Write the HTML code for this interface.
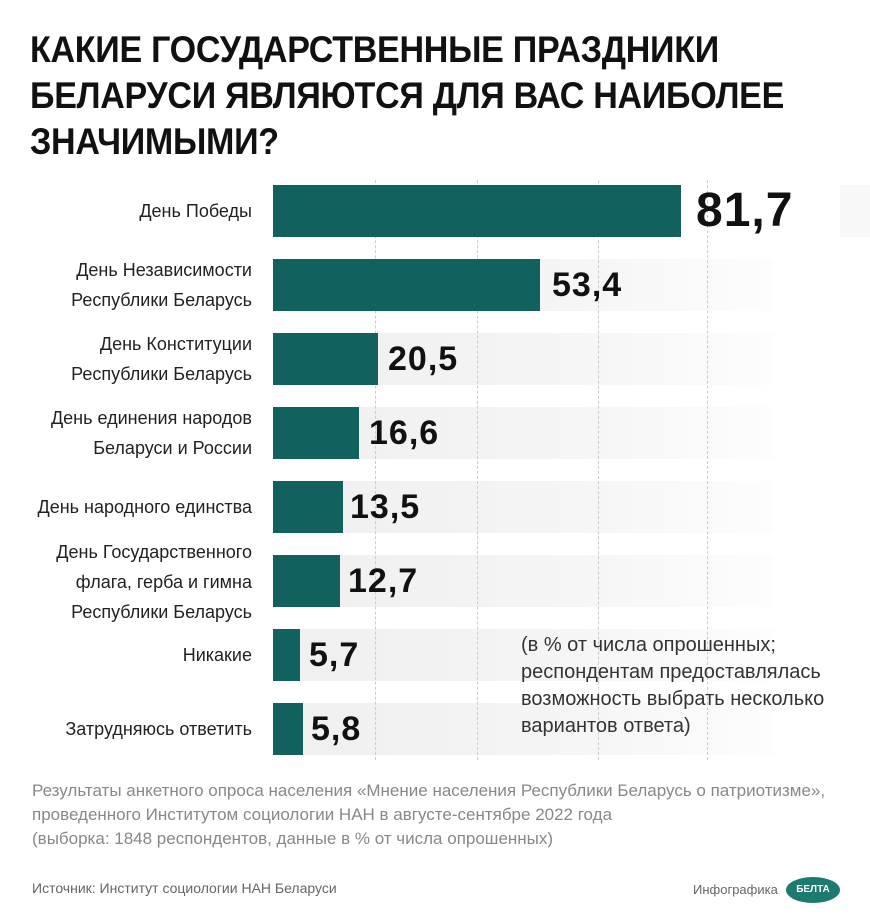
<!DOCTYPE html>
<html><head><meta charset="utf-8"><style>
body{margin:0;width:870px;height:919px;background:#fff;position:relative;overflow:hidden;font-family:"Liberation Sans",sans-serif;}
.t{position:absolute;left:30px;top:27px;font-size:37px;font-weight:bold;line-height:46px;color:#111;letter-spacing:-0.3px;transform:scaleX(0.92);transform-origin:left top;}
.strip{position:absolute;left:273px;width:500px;height:52px;background:linear-gradient(to right,#efefef 0%,#f5f5f5 60%,#fdfdfd 100%);}
.bar{position:absolute;left:273px;height:52px;background:#11625f;}
.v{position:absolute;font-weight:bold;color:#111;font-size:34px;line-height:52px;letter-spacing:1px;}
.lab{position:absolute;right:618px;text-align:right;font-size:18px;line-height:30px;color:#222;}
.dl{position:absolute;top:180px;height:580px;border-left:1px dashed #ccc;}
.note{position:absolute;left:521px;top:632px;font-size:20px;line-height:27px;color:#333;}
.foot{position:absolute;left:32px;top:779px;font-size:17px;line-height:24px;color:#888;}
.src{position:absolute;left:32px;top:880px;font-size:14px;color:#666;}
</style></head><body>
<div class="t">КАКИЕ ГОСУДАРСТВЕННЫЕ ПРАЗДНИКИ<br>БЕЛАРУСИ ЯВЛЯЮТСЯ ДЛЯ ВАС НАИБОЛЕЕ<br>ЗНАЧИМЫМИ?</div>
<div class="strip" style="top:259px"></div>
<div class="strip" style="top:333px"></div>
<div class="strip" style="top:407px"></div>
<div class="strip" style="top:481px"></div>
<div class="strip" style="top:555px"></div>
<div class="strip" style="top:629px"></div>
<div class="strip" style="top:703px"></div>
<div style="position:absolute;left:840px;top:185px;width:30px;height:52px;background:#f8f8f8"></div>
<div class="dl" style="left:375px"></div><div class="dl" style="left:477px"></div><div class="dl" style="left:598px"></div><div class="dl" style="left:707px"></div>
<div class="bar" style="top:185px;width:408px"></div><div class="v" style="left:696px;top:185px;font-size:48px">81,7</div>
<div class="bar" style="top:259px;width:267px"></div><div class="v" style="left:552px;top:259px">53,4</div>
<div class="bar" style="top:333px;width:105px"></div><div class="v" style="left:388px;top:333px">20,5</div>
<div class="bar" style="top:407px;width:86px"></div><div class="v" style="left:369px;top:407px">16,6</div>
<div class="bar" style="top:481px;width:70px"></div><div class="v" style="left:350px;top:481px">13,5</div>
<div class="bar" style="top:555px;width:67px"></div><div class="v" style="left:348px;top:555px">12,7</div>
<div class="bar" style="top:629px;width:27px"></div><div class="v" style="left:309px;top:629px">5,7</div>
<div class="bar" style="top:703px;width:30px"></div><div class="v" style="left:311px;top:703px">5,8</div>
<div class="lab" style="top:196px">День Победы</div>
<div class="lab" style="top:255px">День Независимости<br>Республики Беларусь</div>
<div class="lab" style="top:329px">День Конституции<br>Республики Беларусь</div>
<div class="lab" style="top:403px">День единения народов<br>Беларуси и России</div>
<div class="lab" style="top:492px">День народного единства</div>
<div class="lab" style="top:537px">День Государственного<br>флага, герба и гимна<br>Республики Беларусь</div>
<div class="lab" style="top:640px">Никакие</div>
<div class="lab" style="top:714px">Затрудняюсь ответить</div>
<div class="note">(в % от числа опрошенных;<br>респондентам предоставлялась<br>возможность выбрать несколько<br>вариантов ответа)</div>
<div class="foot">Результаты анкетного опроса населения «Мнение населения Республики Беларусь о патриотизме»,<br>проведенного Институтом социологии НАН в августе-сентябре 2022 года<br>(выборка: 1848 респондентов, данные в % от числа опрошенных)</div>
<div class="src">Источник: Институт социологии НАН Беларуси</div>
<div style="position:absolute;left:693px;top:882px;font-size:13px;color:#666">Инфографика</div>
<div style="position:absolute;left:786px;top:877px;width:54px;height:26px;border-radius:50%;background:#1d7a6f;color:#fff;font-size:10px;font-weight:bold;text-align:center;line-height:26px">БЕЛТА</div>
</body></html>
